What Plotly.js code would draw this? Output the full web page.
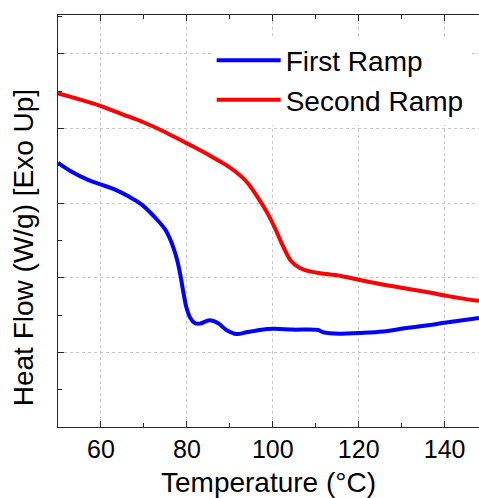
<!DOCTYPE html>
<html>
<head>
<meta charset="utf-8">
<script src="https://cdn.plot.ly/plotly-3.0.1.min.js"></script>
<style>
html,body{margin:0;padding:0;background:#fff;}
#chart{width:479px;height:498px;}
</style>
</head>
<body>
<div id="chart"></div>
<script>
// Temperature (°C) and heat flow (arbitrary units, y tick labels hidden in original)
const firstRampT = [50, 53.2, 57, 60.2, 63.3, 66.4, 69.5, 72.7, 74.9, 76.0, 77.0, 77.8, 78.5, 79.2, 79.9, 80.8, 81.9, 83.0, 85.3, 87.3, 89.2, 91.6, 93.9, 97, 100.1, 104.7, 110.5, 111.7, 115.6, 120, 125.7, 131.1, 135.7, 140.4, 148];
const firstRampHF = [3.54, 3.42, 3.31, 3.245, 3.18, 3.09, 2.98, 2.80, 2.65, 2.53, 2.38, 2.22, 2.03, 1.80, 1.60, 1.46, 1.39, 1.385, 1.43, 1.39, 1.30, 1.245, 1.27, 1.30, 1.315, 1.305, 1.30, 1.27, 1.25, 1.26, 1.28, 1.327, 1.36, 1.40, 1.46];

const secondRampT = [50, 55, 60, 65, 70, 75, 80, 83, 86, 89, 92, 94, 96, 98.5, 100.5, 102.4, 104.3, 106.3, 108.6, 111, 115.6, 120, 127.2, 135.8, 140.5, 146.5, 148];
const secondRampHF = [4.47, 4.39, 4.30, 4.19, 4.08, 3.95, 3.80, 3.71, 3.615, 3.515, 3.39, 3.28, 3.12, 2.89, 2.665, 2.42, 2.22, 2.13, 2.085, 2.06, 2.027, 1.973, 1.893, 1.81, 1.757, 1.70, 1.69];

const seriesNames = ['First Ramp', 'Second Ramp'];
const xTitle = 'Temperature (°C)';
const yTitle = 'Heat Flow (W/g) [Exo Up]';

const FONT = '"Liberation Sans", Arial, Helvetica, sans-serif';

const traces = [
  {x: firstRampT, y: firstRampHF, name: seriesNames[0], type: 'scatter', mode: 'lines',
   line: {color: '#0000ff', width: 4, shape: 'spline', smoothing: 1.0}},
  {x: secondRampT, y: secondRampHF, name: seriesNames[1], type: 'scatter', mode: 'lines',
   line: {color: '#ff0000', width: 4, shape: 'spline', smoothing: 1.0}}
];

const axisCommon = {
  showline: true, linecolor: '#262626', linewidth: 1,
  ticks: 'inside', ticklen: 6, tickwidth: 1, tickcolor: '#262626',
  showgrid: true, gridcolor: '#c8c8c8', griddash: 'dot', gridwidth: 1,
  zeroline: false
};

const layout = {
  width: 479, height: 498,
  margin: {l: 58, r: 0, t: 15, b: 71},
  paper_bgcolor: '#ffffff', plot_bgcolor: '#ffffff',
  font: {family: FONT, color: '#000000', size: 25},
  showlegend: true,
  legend: {
    x: 0.365, y: 0.95, xanchor: 'left', yanchor: 'top',
    bgcolor: '#ffffff', borderwidth: 0,
    font: {family: FONT, size: 28, color: '#000000'},
    itemwidth: 64, tracegroupgap: 0
  },
  xaxis: Object.assign({}, axisCommon, {
    range: [50, 148], tick0: 0, dtick: 20, mirror: 'ticks', automargin: true,
    minor: {dtick: 10, ticks: 'inside', ticklen: 4, tickcolor: '#262626', showgrid: false},
    tickfont: {family: FONT, size: 25, color: '#000'},
    title: {text: xTitle, font: {family: FONT, size: 28, color: '#000'}, standoff: 10}
  }),
  yaxis: Object.assign({}, axisCommon, {
    range: [0, 5.52], tick0: 0, dtick: 1, showticklabels: false,
    minor: {dtick: 0.5, ticks: 'inside', ticklen: 4, tickcolor: '#262626', showgrid: false}
  }),
  annotations: [{
    text: yTitle, textangle: -90, xref: 'paper', yref: 'paper',
    x: -0.082, y: 0.435, xanchor: 'center', yanchor: 'middle', showarrow: false,
    font: {family: FONT, size: 28, color: '#000'}
  }]
};

Plotly.newPlot('chart', traces, layout, {displayModeBar: false, staticPlot: true});
</script>
</body>
</html>
